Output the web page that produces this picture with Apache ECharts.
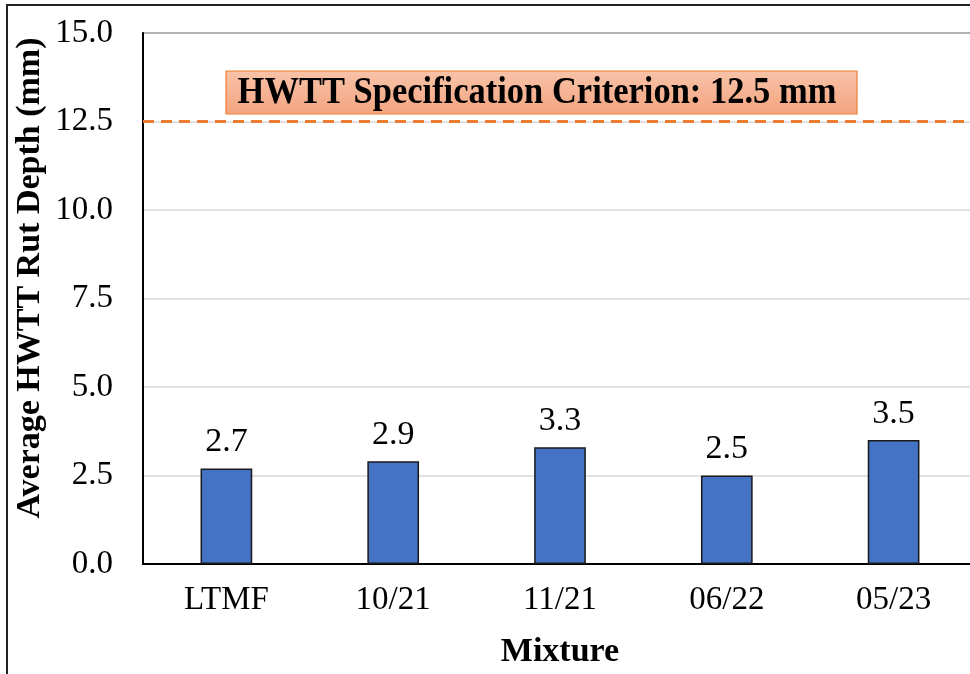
<!DOCTYPE html>
<html>
<head>
<meta charset="utf-8">
<script src="https://cdn.jsdelivr.net/npm/echarts@6/dist/echarts.min.js"></script>
<style>
  html, body { margin: 0; padding: 0; background: #fff; overflow: hidden; }
  #chart { width: 977px; height: 674px; }
</style>
</head>
<body>
<div id="chart"></div>
<script>
// Average HWTT rut depth by mixture
const mixtures = ['LTMF', '10/21', '11/21', '06/22', '05/23'];
const rutDepth = [2.7, 2.9, 3.3, 2.5, 3.5];
const yTicks = [0, 2.5, 5, 7.5, 10, 12.5, 15];
const criterion = 12.5;
const criterionText = 'HWTT Specification Criterion: 12.5 mm';

const serif = 'Liberation Serif, Times New Roman, serif';

const chart = echarts.init(document.getElementById('chart'), null, { renderer: 'canvas' });

chart.setOption({
  animation: false,
  backgroundColor: '#ffffff',
  grid: {
    left: 143, top: 33, right: 0, bottom: 108,
    show: true, borderColor: '#000', borderWidth: 1.5, backgroundColor: 'transparent'
  },
  xAxis: {
    type: 'category',
    data: mixtures,
    axisTick: { show: false },
    axisLine: { lineStyle: { color: '#000', width: 2 } },
    axisLabel: { color: '#000', fontFamily: serif, fontSize: 33, margin: 20 },
    name: 'Mixture',
    nameLocation: 'middle',
    nameGap: 71,
    nameTextStyle: { color: '#000', fontFamily: serif, fontSize: 34, fontWeight: 'bold' }
  },
  yAxis: {
    type: 'value',
    min: yTicks[0],
    max: yTicks[yTicks.length - 1],
    interval: yTicks[1] - yTicks[0],
    axisLine: { show: true, lineStyle: { color: '#000', width: 2 } },
    axisTick: { show: false },
    axisLabel: {
      color: '#000', fontFamily: serif, fontSize: 33, margin: 30,
      formatter: v => v.toFixed(1)
    },
    splitLine: { lineStyle: { color: '#D9D9D9', width: 1.5 } }
  },
  series: [{
    type: 'bar',
    data: rutDepth,
    barWidth: '31%',
    itemStyle: { color: '#4472C4', borderColor: '#1a1a1a', borderWidth: 1.5 },
    label: {
      show: true, position: 'top', distance: 9,
      color: '#000', fontFamily: serif, fontSize: 34,
      formatter: p => p.value.toFixed(1)
    },
    markLine: {
      silent: true,
      symbol: 'none',
      label: { show: false },
      lineStyle: { color: '#ED7D31', width: 3, type: [11, 7] },
      data: [{ yAxis: criterion }]
    }
  }],
  graphic: [
    {
      // outer chart frame
      type: 'rect',
      shape: { x: 7, y: 5, width: 1000, height: 700 },
      style: { fill: 'none', stroke: '#222', lineWidth: 2 },
      silent: true, z: 10
    },
    {
      type: 'text',
      x: 30, y: 278,
      rotation: Math.PI / 2,
      style: {
        text: 'Average HWTT Rut Depth (mm)',
        fontFamily: serif, fontSize: 34, fontWeight: 'bold', fill: '#000',
        align: 'center', verticalAlign: 'middle'
      },
      z: 10
    },
    {
      type: 'group',
      x: 226, y: 71,
      z: 10,
      children: [
        {
          type: 'rect',
          shape: { x: 0, y: 0, width: 631, height: 43 },
          style: {
            fill: new echarts.graphic.LinearGradient(0, 0, 0, 1, [
              { offset: 0, color: '#F8C3A9' },
              { offset: 1, color: '#F4A47F' }
            ]),
            stroke: '#ED7D31', lineWidth: 1.2
          }
        },
        {
          type: 'text',
          x: 311, y: 22,
          scaleY: 1.1,
          style: {
            text: criterionText,
            fontFamily: serif, fontSize: 34.5, fontWeight: 'bold', fill: '#000',
            align: 'center', verticalAlign: 'middle'
          }
        }
      ]
    }
  ]
});
</script>
</body>
</html>
